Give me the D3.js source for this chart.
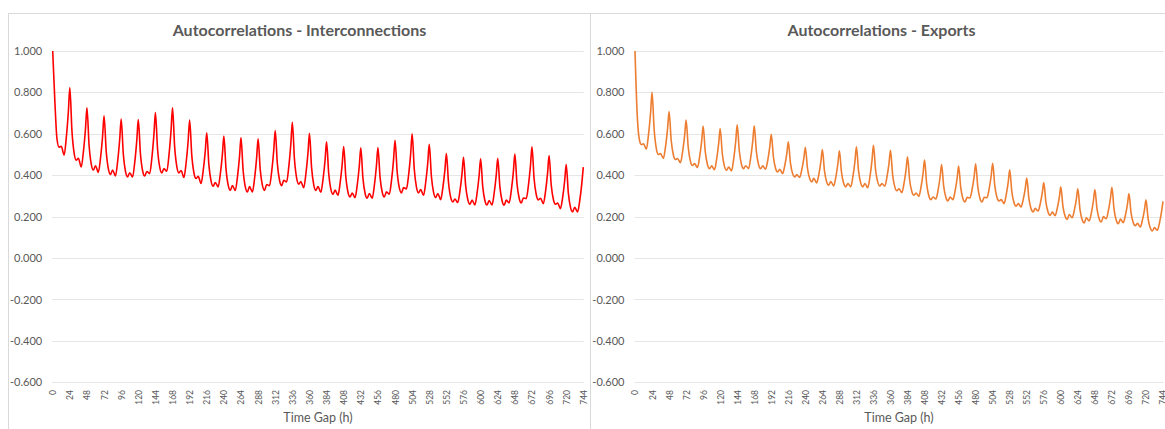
<!DOCTYPE html>
<html><head><meta charset="utf-8">
<script src="https://cdn.jsdelivr.net/npm/d3@7"></script>
<style>body{margin:0;background:#fff} svg{display:block}</style>
</head><body><svg id="c" width="1165" height="429"></svg>
<script>
// ---- data ----
// sampled hour offsets within each 24 h day
const dayOffsets = [0, 3, 6, 9, 12, 16, 19, 22];
const xTickLabels = [0,24,48,72,96,120,144,168,192,216,240,264,288,312,336,360,384,408,432,456,480,504,528,552,576,600,624,648,672,696,720,744];
const yTickValues = [1.0, 0.8, 0.6, 0.4, 0.2, 0.0, -0.2, -0.4, -0.6];

// Interconnections: one row per day, values at the offsets above
const interconnectionsDays = [
  [1.000, 0.760, 0.575, 0.535, 0.540, 0.497, 0.579, 0.709],
  [0.823, 0.613, 0.508, 0.473, 0.482, 0.440, 0.512, 0.626],
  [0.726, 0.545, 0.455, 0.425, 0.446, 0.414, 0.482, 0.591],
  [0.687, 0.517, 0.432, 0.404, 0.425, 0.396, 0.465, 0.575],
  [0.671, 0.504, 0.420, 0.392, 0.412, 0.392, 0.461, 0.572],
  [0.669, 0.505, 0.423, 0.396, 0.418, 0.408, 0.482, 0.600],
  [0.703, 0.528, 0.440, 0.411, 0.432, 0.419, 0.496, 0.619],
  [0.726, 0.537, 0.443, 0.411, 0.423, 0.389, 0.458, 0.569],
  [0.666, 0.497, 0.412, 0.384, 0.395, 0.360, 0.421, 0.519],
  [0.605, 0.450, 0.373, 0.347, 0.365, 0.344, 0.405, 0.503],
  [0.589, 0.432, 0.353, 0.327, 0.350, 0.326, 0.390, 0.492],
  [0.582, 0.424, 0.345, 0.319, 0.345, 0.319, 0.383, 0.486],
  [0.576, 0.427, 0.352, 0.327, 0.355, 0.349, 0.416, 0.523],
  [0.616, 0.456, 0.377, 0.350, 0.375, 0.368, 0.440, 0.555],
  [0.656, 0.477, 0.387, 0.357, 0.369, 0.340, 0.406, 0.510],
  [0.602, 0.437, 0.355, 0.327, 0.345, 0.318, 0.379, 0.476],
  [0.561, 0.409, 0.333, 0.308, 0.328, 0.303, 0.362, 0.456],
  [0.539, 0.393, 0.319, 0.295, 0.314, 0.292, 0.352, 0.448],
  [0.532, 0.386, 0.313, 0.289, 0.312, 0.289, 0.350, 0.448],
  [0.534, 0.391, 0.319, 0.295, 0.320, 0.308, 0.373, 0.478],
  [0.569, 0.417, 0.340, 0.315, 0.340, 0.334, 0.400, 0.507],
  [0.600, 0.429, 0.344, 0.315, 0.331, 0.303, 0.365, 0.464],
  [0.550, 0.395, 0.318, 0.292, 0.312, 0.282, 0.338, 0.427],
  [0.505, 0.365, 0.294, 0.271, 0.285, 0.268, 0.323, 0.410],
  [0.487, 0.351, 0.283, 0.260, 0.280, 0.256, 0.312, 0.401],
  [0.479, 0.345, 0.278, 0.256, 0.278, 0.256, 0.313, 0.403],
  [0.482, 0.346, 0.278, 0.255, 0.280, 0.266, 0.325, 0.419],
  [0.502, 0.360, 0.290, 0.266, 0.290, 0.287, 0.350, 0.450],
  [0.537, 0.383, 0.307, 0.281, 0.289, 0.263, 0.321, 0.414],
  [0.495, 0.354, 0.284, 0.260, 0.266, 0.239, 0.292, 0.377],
  [0.452, 0.315, 0.246, 0.223, 0.245, 0.223, 0.277, 0.363]
];
const interconnectionsLast = 0.439; // lag 744

// Exports
const exportsDays = [
  [1.000, 0.700, 0.575, 0.548, 0.552, 0.526, 0.595, 0.704],
  [0.800, 0.620, 0.530, 0.500, 0.505, 0.481, 0.538, 0.629],
  [0.708, 0.569, 0.499, 0.476, 0.481, 0.460, 0.512, 0.594],
  [0.666, 0.535, 0.469, 0.447, 0.456, 0.437, 0.487, 0.567],
  [0.637, 0.514, 0.453, 0.432, 0.445, 0.427, 0.477, 0.556],
  [0.626, 0.505, 0.444, 0.424, 0.440, 0.421, 0.477, 0.566],
  [0.644, 0.517, 0.453, 0.432, 0.446, 0.432, 0.484, 0.567],
  [0.639, 0.515, 0.453, 0.432, 0.445, 0.429, 0.471, 0.539],
  [0.598, 0.489, 0.434, 0.416, 0.429, 0.408, 0.446, 0.507],
  [0.561, 0.460, 0.409, 0.392, 0.403, 0.389, 0.426, 0.484],
  [0.535, 0.435, 0.385, 0.368, 0.385, 0.363, 0.403, 0.468],
  [0.524, 0.421, 0.369, 0.352, 0.370, 0.348, 0.391, 0.459],
  [0.518, 0.414, 0.361, 0.344, 0.360, 0.344, 0.392, 0.469],
  [0.537, 0.421, 0.363, 0.344, 0.360, 0.340, 0.391, 0.473],
  [0.544, 0.426, 0.368, 0.348, 0.360, 0.347, 0.391, 0.460],
  [0.521, 0.403, 0.345, 0.325, 0.335, 0.316, 0.359, 0.428],
  [0.489, 0.377, 0.322, 0.303, 0.314, 0.298, 0.342, 0.412],
  [0.473, 0.358, 0.301, 0.282, 0.295, 0.285, 0.327, 0.394],
  [0.452, 0.346, 0.294, 0.276, 0.295, 0.282, 0.323, 0.387],
  [0.444, 0.340, 0.288, 0.271, 0.293, 0.290, 0.331, 0.397],
  [0.455, 0.345, 0.289, 0.271, 0.293, 0.292, 0.334, 0.400],
  [0.458, 0.349, 0.294, 0.276, 0.282, 0.263, 0.304, 0.369],
  [0.426, 0.320, 0.268, 0.250, 0.263, 0.247, 0.282, 0.338],
  [0.387, 0.289, 0.239, 0.223, 0.240, 0.227, 0.262, 0.317],
  [0.365, 0.270, 0.222, 0.206, 0.222, 0.205, 0.240, 0.295],
  [0.344, 0.250, 0.203, 0.187, 0.210, 0.195, 0.230, 0.286],
  [0.335, 0.235, 0.186, 0.169, 0.195, 0.179, 0.217, 0.278],
  [0.331, 0.237, 0.190, 0.174, 0.200, 0.190, 0.228, 0.289],
  [0.342, 0.236, 0.184, 0.166, 0.188, 0.171, 0.206, 0.262],
  [0.311, 0.218, 0.172, 0.156, 0.168, 0.150, 0.183, 0.235],
  [0.281, 0.191, 0.146, 0.131, 0.147, 0.134, 0.169, 0.225]
];
const exportsLast = 0.274; // lag 744

// ---- build ----
function toPoints(days, last) {
  const pts = [];
  days.forEach((row, k) => row.forEach((v, j) => pts.push({lag: 24 * k + dayOffsets[j], v})));
  pts.push({lag: 744, v: last});
  return pts;
}

const panels = [
  {title: "Autocorrelations - Interconnections", left: 8.5, right: 590.5, px0: 52.7, px1: 583.3,
   color: "#FF0000", pts: toPoints(interconnectionsDays, interconnectionsLast)},
  {title: "Autocorrelations - Exports", left: 590.5, right: 1172.5, px0: 635, px1: 1163,
   color: "#ED7D31", pts: toPoints(exportsDays, exportsLast)}
];

const svg = d3.select("#c");
const FONT = "Lato, 'Open Sans', sans-serif";
const textCol = "#595959";

panels.forEach(p => {
  const g = svg.append("g");
  g.append("rect").attr("x", p.left).attr("y", 13.5).attr("width", p.right - p.left).attr("height", 440)
    .attr("fill", "#fff").attr("stroke", "#d9d9d9").attr("stroke-width", 1);

  const x = d3.scaleLinear().domain([0, 744]).range([p.px0, p.px1]);
  const y = d3.scaleLinear().domain([-0.6, 1.0]).range([382.3, 51]);

  // gridlines
  g.append("g").selectAll("line").data(yTickValues).join("line")
    .attr("x1", p.px0 - 0.5).attr("x2", p.px1 + 0.5)
    .attr("y1", d => Math.round(y(d)) + 0.5).attr("y2", d => Math.round(y(d)) + 0.5)
    .attr("stroke", "#e6e6e6").attr("stroke-width", 1);

  // y axis labels
  const yAxis = d3.axisLeft(y).tickValues(yTickValues).tickFormat(d3.format(".3f")).tickSize(0).tickPadding(0);
  const ya = g.append("g").attr("transform", `translate(${p.px0 - 10.5},0)`).call(yAxis);
  ya.select(".domain").remove();
  ya.selectAll("text").attr("font-family", FONT).attr("font-size", 11).attr("fill", textCol)
    .text(d => d3.format(".3f")(d).replace("−", "-"));

  // x axis labels (rotated)
  const xAxis = d3.axisBottom(x).tickValues(xTickLabels).tickFormat(d => d).tickSize(0).tickPadding(0);
  const xa = g.append("g").attr("transform", `translate(0,390)`).call(xAxis);
  xa.select(".domain").remove();
  xa.selectAll("text").attr("font-family", FONT).attr("font-size", 8.5).attr("fill", textCol)
    .attr("transform", "rotate(-90)").attr("text-anchor", "end").attr("x", 0).attr("y", 0).attr("dy", "0.35em");

  // axis title
  g.append("text").attr("x", (p.px0 + p.px1) / 2).attr("y", 422).attr("text-anchor", "middle")
    .attr("font-family", FONT).attr("font-size", 12.5).attr("fill", textCol).text("Time Gap (h)");

  // chart title
  g.append("text").attr("x", (p.left + p.right) / 2).attr("y", 35.5).attr("text-anchor", "middle")
    .attr("font-family", FONT).attr("font-weight", "bold").attr("font-size", 16).attr("fill", textCol).text(p.title);

  // line
  const line = d3.line().x(d => x(d.lag)).y(d => y(d.v)).curve(d3.curveMonotoneX);
  g.append("path").datum(p.pts).attr("d", line).attr("fill", "none")
    .attr("stroke", p.color).attr("stroke-width", 1.6).attr("stroke-linejoin", "round");
});
</script></body></html>
